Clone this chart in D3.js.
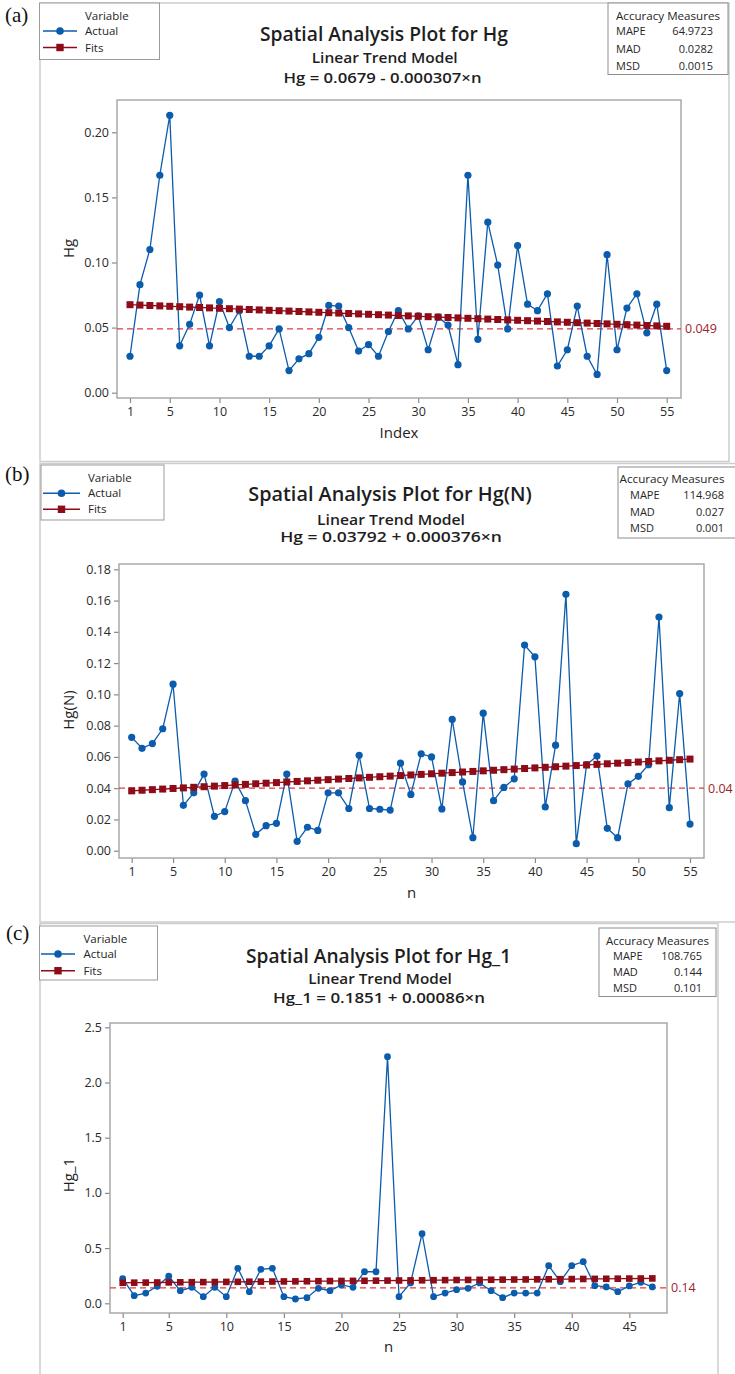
<!DOCTYPE html>
<html>
<head>
<meta charset="utf-8">
<script src="https://cdn.jsdelivr.net/npm/d3@7"></script>
<style>
  body { margin: 0; background: #fff; }
  svg { display: block; }
</style>
</head>
<body>
<svg id="fig" width="735" height="1374"></svg>
<script>
// ---- data -------------------------------------------------------------
const hgIndex = d3.range(1, 56);
const hgActual = [0.028, 0.083, 0.110, 0.167, 0.213, 0.036, 0.0525, 0.075, 0.036, 0.070,
                  0.050, 0.063, 0.028, 0.028, 0.036, 0.049, 0.017, 0.026, 0.030, 0.0425,
                  0.067, 0.0665, 0.050, 0.032, 0.037, 0.028, 0.047, 0.063, 0.049, 0.059,
                  0.033, 0.058, 0.052, 0.0215, 0.167, 0.041, 0.131, 0.098, 0.049, 0.113,
                  0.068, 0.063, 0.076, 0.0205, 0.033, 0.0665, 0.028, 0.014, 0.106, 0.033,
                  0.065, 0.076, 0.046, 0.068, 0.017];
const hgTrend = [0.0679, -0.000307];          // intercept, slope
const hgMean = 0.049;
const hgAccuracy = ["64.9723", "0.0282", "0.0015"];
const hgXTicks = [1, 5, 10, 15, 20, 25, 30, 35, 40, 45, 50, 55];
const hgYTicks = [0, 0.05, 0.10, 0.15, 0.20];

const hgNIndex = d3.range(1, 56);
const hgNActual = [0.0725, 0.0655, 0.0685, 0.078, 0.1065, 0.029, 0.037, 0.049, 0.022, 0.025,
                   0.0445, 0.032, 0.0105, 0.016, 0.0175, 0.049, 0.006, 0.015, 0.013, 0.037,
                   0.037, 0.027, 0.061, 0.027, 0.0265, 0.026, 0.056, 0.036, 0.062, 0.060,
                   0.0267, 0.084, 0.044, 0.0083, 0.088, 0.032, 0.0405, 0.046, 0.1315, 0.124,
                   0.028, 0.0675, 0.164, 0.0045, 0.055, 0.0605, 0.0143, 0.0083, 0.0427, 0.0476,
                   0.055, 0.1495, 0.0275, 0.1005, 0.017];
const hgNTrend = [0.03792, 0.000376];
const hgNMean = 0.04;
const hgNAccuracy = ["114.968", "0.027", "0.001"];
const hgNXTicks = [1, 5, 10, 15, 20, 25, 30, 35, 40, 45, 50, 55];
const hgNYTicks = [0, 0.02, 0.04, 0.06, 0.08, 0.10, 0.12, 0.14, 0.16, 0.18];

const hg1Index = d3.range(1, 48);
const hg1Actual = [0.223, 0.069, 0.093, 0.154, 0.245, 0.114, 0.145, 0.060, 0.145, 0.060,
                   0.317, 0.105, 0.308, 0.317, 0.060, 0.039, 0.051, 0.136, 0.114, 0.166,
                   0.145, 0.286, 0.286, 2.234, 0.060, 0.185, 0.630, 0.060, 0.093, 0.123,
                   0.136, 0.185, 0.114, 0.051, 0.093, 0.093, 0.093, 0.341, 0.196, 0.341,
                   0.377, 0.160, 0.148, 0.105, 0.157, 0.190, 0.148];
const hg1Trend = [0.1851, 0.00086];
const hg1Mean = 0.14;
const hg1Accuracy = ["108.765", "0.144", "0.101"];
const hg1XTicks = [1, 5, 10, 15, 20, 25, 30, 35, 40, 45];
const hg1YTicks = [0, 0.5, 1.0, 1.5, 2.0, 2.5];

const accuracyLabels = ["MAPE", "MAD", "MSD"];
const legendLabels = ["Actual", "Fits"];

// ---- styles -----------------------------------------------------------
const SANS = "'Open Sans', 'Noto Sans', sans-serif";
const SERIF = "'Liberation Serif', 'DejaVu Serif', serif";
const BLUE = "#0b5cad";
const FIT = "#8e0c18";
const MEAN = "#e23b40";
const MEAN_TXT = "#a2222a";
const INK = "#262626";

const svg = d3.select("#fig");

function txt(g, o) {
  const t = g.append("text")
    .attr("x", o.x).attr("y", o.y)
    .attr("font-family", o.family || SANS)
    .attr("font-size", o.size)
    .attr("font-weight", o.weight || 400)
    .attr("fill", o.fill || INK)
    .attr("text-anchor", o.anchor || "start")
    .text(o.text);
  if (o.width) t.attr("textLength", o.width).attr("lengthAdjust", "spacingAndGlyphs");
  if (o.rotate) t.attr("transform", `rotate(${o.rotate},${o.x},${o.y})`);
  return t;
}

function drawPanel(p) {
  const g = svg.append("g");

  // outer panel frame
  g.append("rect")
    .attr("x", p.frame[0]).attr("y", p.frame[1])
    .attr("width", p.frame[2] - p.frame[0]).attr("height", p.frame[3] - p.frame[1])
    .attr("fill", "none").attr("stroke", "#cdcdcd").attr("stroke-width", 1.5);

  // panel tag
  txt(g, { x: p.tag[0], y: p.tag[1], text: p.tagText, size: 21, family: SERIF, fill: "#111" });

  // legend box
  const L = p.legend;
  g.append("rect").attr("x", L.x0).attr("y", L.y0)
    .attr("width", L.x1 - L.x0).attr("height", L.y1 - L.y0)
    .attr("fill", "#fff").attr("stroke", "#9b9b9b").attr("stroke-width", 1);
  txt(g, { x: L.tx, y: L.rows[0] + 4, text: "Variable", size: 11.5, weight: 500 });
  legendLabels.forEach((lab, i) => {
    const yy = L.rows[i + 1];
    const col = i === 0 ? BLUE : FIT;
    g.append("line").attr("x1", L.lx0).attr("x2", L.lx1).attr("y1", yy).attr("y2", yy)
      .attr("stroke", col).attr("stroke-width", 1.4);
    if (i === 0) {
      g.append("circle").attr("cx", (L.lx0 + L.lx1) / 2).attr("cy", yy).attr("r", 3.8).attr("fill", col);
    } else {
      g.append("rect").attr("x", (L.lx0 + L.lx1) / 2 - 3.7).attr("y", yy - 3.7)
        .attr("width", 7.4).attr("height", 7.4).attr("fill", col);
    }
    txt(g, { x: L.tx, y: yy + 4, text: lab, size: 11.5, weight: 500 });
  });

  // accuracy measures box
  const A = p.acc;
  g.append("rect").attr("x", A.x0).attr("y", A.y0)
    .attr("width", A.x1 - A.x0).attr("height", A.y1 - A.y0)
    .attr("fill", "#fff").attr("stroke", "#8e8e8e").attr("stroke-width", 1);
  txt(g, { x: (A.x0 + A.x1) / 2 + A.hdx, y: A.rows[0] + 4, text: "Accuracy Measures",
           size: 11, width: A.hw, anchor: "middle", weight: 500 });
  accuracyLabels.forEach((lab, i) => {
    txt(g, { x: A.lx, y: A.rows[i + 1] + 4, text: lab, size: 11, weight: 500 });
    txt(g, { x: A.vx, y: A.rows[i + 1] + 4, text: p.accuracy[i], size: 11, anchor: "end", weight: 500 });
  });

  // titles
  p.titles.forEach(t => txt(g, { x: t.cx, y: t.y, text: t.text, size: t.size, width: t.w,
                                 anchor: "middle", weight: t.weight || 400, fill: "#1e1e1e" }));

  // plot area
  const [fx0, fy0, fx1, fy1] = p.plot;
  const x = d3.scaleLinear().domain(p.xDom).range(p.xRange);
  const y = d3.scaleLinear().domain(p.yDom).range(p.yRange);

  g.append("rect").attr("x", fx0).attr("y", fy0).attr("width", fx1 - fx0).attr("height", fy1 - fy0)
    .attr("fill", "#fff");

  const xAxis = g.append("g").attr("transform", `translate(0,${fy1})`)
    .call(d3.axisBottom(x).tickValues(p.xTicks).tickSize(5).tickPadding(4).tickFormat(d3.format("d")));
  const yAxis = g.append("g").attr("transform", `translate(${fx0},0)`)
    .call(d3.axisLeft(y).tickValues(p.yTicks).tickSize(5).tickPadding(3).tickFormat(d3.format(p.yFmt)));
  [xAxis, yAxis].forEach(a => {
    a.select(".domain").remove();
    a.selectAll(".tick line").attr("stroke", "#8a8a8a").attr("stroke-width", 1.2);
    a.selectAll(".tick text").attr("font-family", SANS).attr("font-size", 12.5)
      .attr("font-weight", 500).attr("fill", "#2a2a2a");
  });

  g.append("rect").attr("x", fx0).attr("y", fy0).attr("width", fx1 - fx0).attr("height", fy1 - fy0)
    .attr("fill", "none").attr("stroke", "#a3a3a3").attr("stroke-width", 1.4);

  // axis titles
  txt(g, { x: (fx0 + fx1) / 2, y: p.xLabelY, text: p.xLabel, size: 15, anchor: "middle",
           weight: 520, fill: "#1e1e1e" });
  txt(g, { x: p.yLabelX, y: p.yLabelCY, text: p.yLabel, size: 15, anchor: "middle", rotate: -90,
           weight: 520, fill: "#1e1e1e" });

  // mean reference line and its value label
  g.append("line").attr("x1", fx0).attr("x2", fx1).attr("y1", y(p.mean)).attr("y2", y(p.mean))
    .attr("stroke", MEAN).attr("stroke-width", 1.2).attr("stroke-dasharray", "6,4");
  txt(g, { x: fx1 + 4, y: y(p.mean) + 4.5, text: String(p.mean), size: 12.5, fill: MEAN_TXT, weight: 500 });

  // actual series
  const rows = p.index.map((n, i) => ({ n, v: p.actual[i], f: p.trend[0] + p.trend[1] * n }));
  g.append("path").datum(rows)
    .attr("d", d3.line().x(d => x(d.n)).y(d => y(d.v)))
    .attr("fill", "none").attr("stroke", BLUE).attr("stroke-width", 1.3);
  g.selectAll(null).data(rows).join("circle")
    .attr("cx", d => x(d.n)).attr("cy", d => y(d.v)).attr("r", p.r).attr("fill", BLUE);

  // fitted linear trend
  g.append("path").datum(rows)
    .attr("d", d3.line().x(d => x(d.n)).y(d => y(d.f)))
    .attr("fill", "none").attr("stroke", FIT).attr("stroke-width", 1.3);
  g.selectAll(null).data(rows).join("rect")
    .attr("x", d => x(d.n) - p.sq / 2).attr("y", d => y(d.f) - p.sq / 2)
    .attr("width", p.sq).attr("height", p.sq).attr("fill", FIT);
}

// ---- panel (a) --------------------------------------------------------
drawPanel({
  frame: [40, 3, 729, 461.5], tag: [5, 22], tagText: "(a)",
  legend: { x0: 39.5, y0: 3, x1: 159.5, y1: 59.5, rows: [16, 31, 47.5], lx0: 43, lx1: 77, tx: 85 },
  acc: { x0: 608, y0: 3, x1: 728, y1: 74.5, rows: [16, 31, 48.5, 65.5], lx: 616, vx: 713, hw: 104, hdx: 0 },
  accuracy: hgAccuracy,
  titles: [
    { text: "Spatial Analysis Plot for Hg", cx: 384, y: 41, size: 19.5, w: 248, weight: 600 },
    { text: "Linear Trend Model", cx: 384.7, y: 63, size: 14, w: 146, weight: 550 },
    { text: "Hg = 0.0679 - 0.000307\u00d7n", cx: 382.5, y: 83, size: 14, w: 198, weight: 550 }
  ],
  plot: [117, 100, 681, 398],
  xDom: [1, 55], xRange: [130, 666.7],
  yDom: [0, 0.20], yRange: [392.7, 132.3],
  xTicks: hgXTicks, yTicks: hgYTicks, yFmt: ".2f",
  xLabel: "Index", xLabelY: 438, yLabel: "Hg", yLabelX: 74, yLabelCY: 248.5,
  index: hgIndex, actual: hgActual, trend: hgTrend, mean: hgMean,
  r: 3.6, sq: 7
});

// ---- panel (b) --------------------------------------------------------
drawPanel({
  frame: [40, 463.5, 745, 922], tag: [5, 481], tagText: "(b)",
  legend: { x0: 41, y0: 465, x1: 164, y1: 520, rows: [478.3, 493.3, 509.3], lx0: 43, lx1: 80, tx: 88 },
  acc: { x0: 618, y0: 467, x1: 740, y1: 538, rows: [479, 495, 511.7, 528], lx: 630, vx: 724, hw: 105, hdx: -7 },
  accuracy: hgNAccuracy,
  titles: [
    { text: "Spatial Analysis Plot for Hg(N)", cx: 390, y: 501, size: 20, w: 283.5, weight: 600 },
    { text: "Linear Trend Model", cx: 391, y: 524.5, size: 14, w: 148, weight: 550 },
    { text: "Hg = 0.03792 + 0.000376\u00d7n", cx: 391, y: 542, size: 14, w: 221.6, weight: 550 }
  ],
  plot: [119, 564, 704, 858],
  xDom: [1, 55], xRange: [131.7, 690],
  yDom: [0, 0.18], yRange: [850.7, 569.3],
  xTicks: hgNXTicks, yTicks: hgNYTicks, yFmt: ".2f",
  xLabel: "n", xLabelY: 898, yLabel: "Hg(N)", yLabelX: 74, yLabelCY: 710,
  index: hgNIndex, actual: hgNActual, trend: hgNTrend, mean: hgNMean,
  r: 3.6, sq: 7
});

// ---- panel (c) --------------------------------------------------------
drawPanel({
  frame: [40, 923.5, 718, 1390], tag: [6, 940], tagText: "(c)",
  legend: { x0: 39.5, y0: 926, x1: 157.5, y1: 980, rows: [939.3, 954, 970.7], lx0: 41, lx1: 75, tx: 83.5 },
  acc: { x0: 599, y0: 928, x1: 716, y1: 996.5, rows: [941, 955.7, 971.7, 988], lx: 613, vx: 702, hw: 103, hdx: 0 },
  accuracy: hg1Accuracy,
  titles: [
    { text: "Spatial Analysis Plot for Hg_1", cx: 378.6, y: 962.7, size: 20, w: 265, weight: 600 },
    { text: "Linear Trend Model", cx: 380, y: 984, size: 14, w: 143.5, weight: 550 },
    { text: "Hg_1 = 0.1851 + 0.00086\u00d7n", cx: 379, y: 1002.7, size: 14, w: 212, weight: 550 }
  ],
  plot: [110, 1023, 667, 1313],
  xDom: [1, 45], xRange: [122.7, 629.3],
  yDom: [0, 2.5], yRange: [1303.3, 1027.3],
  xTicks: hg1XTicks, yTicks: hg1YTicks, yFmt: ".1f",
  xLabel: "n", xLabelY: 1352, yLabel: "Hg_1", yLabelX: 74, yLabelCY: 1175,
  index: hg1Index, actual: hg1Actual, trend: hg1Trend, mean: hg1Mean,
  r: 3.4, sq: 6.6
});
</script>
</body>
</html>
